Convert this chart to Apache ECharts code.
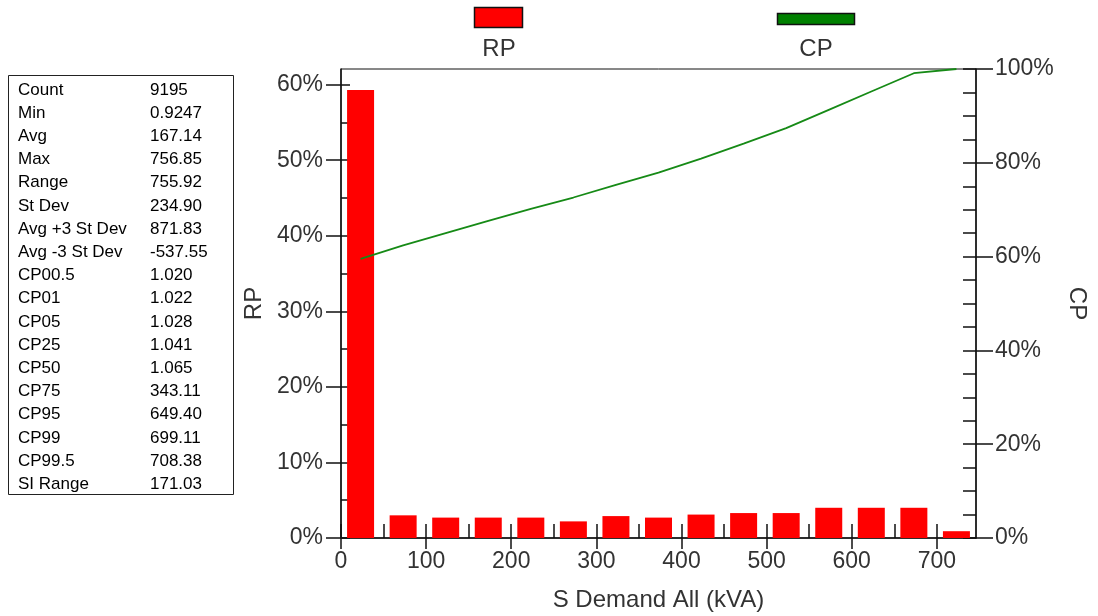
<!DOCTYPE html>
<html>
<head>
<meta charset="utf-8">
<script src="https://cdn.jsdelivr.net/npm/echarts@6/dist/echarts.min.js"></script>
<style>
html,body{margin:0;padding:0;background:#fff;}
#chart{width:1098px;height:616px;}
</style>
</head>
<body>
<div id="chart"></div>
<script>
// ---- data ----
const binCenters = [23, 73, 123, 173, 223, 273, 323, 373, 423, 473, 523, 573, 623, 673, 723];
const rpValues = [59.3, 3.0, 2.7, 2.7, 2.7, 2.2, 2.9, 2.7, 3.1, 3.3, 3.3, 4.0, 4.0, 4.0, 0.9];
const cpValues = [59.5, 62.4, 65.0, 67.6, 70.2, 72.6, 75.3, 77.9, 80.9, 84.1, 87.4, 91.3, 95.2, 99.1, 100.0];
const xTicks = [0, 100, 200, 300, 400, 500, 600, 700];
const xMinorTicks = [0, 50, 100, 150, 200, 250, 300, 350, 400, 450, 500, 550, 600, 650, 700];
const rpTicks = [0, 10, 20, 30, 40, 50, 60];
const rpMinorTicks = [0, 5, 10, 15, 20, 25, 30, 35, 40, 45, 50, 55, 60];
const cpTicks = [0, 20, 40, 60, 80, 100];
const cpMinorTicks = [0, 5, 10, 15, 20, 25, 30, 35, 40, 45, 50, 55, 60, 65, 70, 75, 80, 85, 90, 95, 100];
const statLabels = ['Count', 'Min', 'Avg', 'Max', 'Range', 'St Dev', 'Avg +3 St Dev', 'Avg -3 St Dev',
  'CP00.5', 'CP01', 'CP05', 'CP25', 'CP50', 'CP75', 'CP95', 'CP99', 'CP99.5', 'SI Range'];
const statValues = ['9195', '0.9247', '167.14', '756.85', '755.92', '234.90', '871.83', '-537.55',
  '1.020', '1.022', '1.028', '1.041', '1.065', '343.11', '649.40', '699.11', '708.38', '171.03'];
const xName = 'S Demand All (kVA)';

// ---- chart ----
const chart = echarts.init(document.getElementById('chart'));
const FONT = '"Liberation Sans", Arial, sans-serif';
const X_MIN = 0, X_MAX = 746, RP_MAX = 62.07, CP_MAX = 100;
const axisColor = '#111';
const labelColor = '#333';

const graphic = [];
// stats box
graphic.push({type: 'rect', shape: {x: 8.5, y: 75.5, width: 225, height: 419},
  style: {fill: '#fff', stroke: '#222', lineWidth: 1}, z: 10});
statLabels.forEach((lab, i) => {
  const y = 90 + i * 23.2;
  graphic.push({type: 'text', x: 18, y: y, z: 11,
    style: {text: lab, font: '17px ' + FONT, fill: '#000', verticalAlign: 'middle', align: 'left'}});
  graphic.push({type: 'text', x: 150, y: y, z: 11,
    style: {text: statValues[i], font: '17px ' + FONT, fill: '#000', verticalAlign: 'middle', align: 'left'}});
});
// legend
graphic.push({type: 'rect', shape: {x: 474.5, y: 7.5, width: 48, height: 20},
  style: {fill: '#ff0000', stroke: '#111', lineWidth: 1.5}, z: 10});
graphic.push({type: 'text', x: 499, y: 49, z: 10,
  style: {text: 'RP', font: '24px ' + FONT, fill: '#333', align: 'center', verticalAlign: 'middle'}});
graphic.push({type: 'rect', shape: {x: 777.5, y: 13.5, width: 77, height: 11},
  style: {fill: '#008000', stroke: '#111', lineWidth: 1.5}, z: 10});
graphic.push({type: 'text', x: 816, y: 49, z: 10,
  style: {text: 'CP', font: '24px ' + FONT, fill: '#333', align: 'center', verticalAlign: 'middle'}});

const tickLine = {color: axisColor, width: 1.5};
const mainLine = {show: true, onZero: false, lineStyle: {color: axisColor, width: 1.5}};
const hiddenLine = {show: false, onZero: false};
const option = {
  animation: false,
  backgroundColor: '#fff',
  textStyle: {fontFamily: FONT},
  grid: {left: 341, right: 122, top: 69, bottom: 78, show: true, borderColor: axisColor, borderWidth: 1,
    backgroundColor: 'transparent', outerBoundsMode: 'none', containLabel: false},
  xAxis: [
    {type: 'value', min: X_MIN, max: X_MAX, position: 'bottom',
      name: xName, nameLocation: 'middle', nameGap: 50,
      nameTextStyle: {fontSize: 24, color: labelColor, fontFamily: FONT},
      axisLine: mainLine,
      axisTick: {show: true, inside: false, length: 11, customValues: xTicks, lineStyle: tickLine},
      axisLabel: {customValues: xTicks, fontSize: 23, color: labelColor, margin: 12, fontFamily: FONT},
      splitLine: {show: false}},
    {type: 'value', min: X_MIN, max: X_MAX, position: 'bottom',
      axisLine: hiddenLine,
      axisTick: {show: true, inside: true, length: 14, customValues: xMinorTicks, lineStyle: tickLine},
      axisLabel: {show: false}, splitLine: {show: false}}
  ],
  yAxis: [
    {type: 'value', min: 0, max: RP_MAX, position: 'left',
      name: 'RP', nameLocation: 'middle', nameGap: 67, nameRotate: 90,
      nameTextStyle: {fontSize: 24, color: labelColor, fontFamily: FONT},
      axisLine: mainLine,
      axisTick: {show: true, inside: false, length: 15, customValues: rpTicks, lineStyle: tickLine},
      axisLabel: {customValues: rpTicks, formatter: '{value}%', fontSize: 23, color: labelColor, margin: 18, fontFamily: FONT},
      splitLine: {show: false}},
    {type: 'value', min: 0, max: CP_MAX, position: 'right',
      name: 'CP', nameLocation: 'middle', nameGap: 87, nameRotate: -90,
      nameTextStyle: {fontSize: 24, color: labelColor, fontFamily: FONT},
      axisLine: mainLine,
      axisTick: {show: true, inside: false, length: 17, customValues: cpTicks, lineStyle: tickLine},
      axisLabel: {customValues: cpTicks, formatter: '{value}%', fontSize: 23, color: labelColor, margin: 19, fontFamily: FONT},
      splitLine: {show: false}},
    {type: 'value', min: 0, max: RP_MAX, position: 'left',
      axisLine: hiddenLine,
      axisTick: {show: true, inside: true, length: 9, customValues: rpMinorTicks, lineStyle: tickLine},
      axisLabel: {show: false}, splitLine: {show: false}},
    {type: 'value', min: 0, max: CP_MAX, position: 'right',
      axisLine: hiddenLine,
      axisTick: {show: true, inside: true, length: 13, customValues: cpMinorTicks, lineStyle: tickLine},
      axisLabel: {show: false}, splitLine: {show: false}}
  ],
  series: [
    {name: 'RP', type: 'bar', xAxisIndex: 0, yAxisIndex: 0, barWidth: 27,
      itemStyle: {color: '#ff0000'},
      data: binCenters.map((x, i) => [x, rpValues[i]])},
    {name: 'CP', type: 'line', xAxisIndex: 0, yAxisIndex: 1, symbol: 'none',
      lineStyle: {color: '#168a16', width: 1.8},
      data: binCenters.map((x, i) => [x, cpValues[i]])}
  ],
  graphic: graphic
};
chart.setOption(option);
</script>
</body>
</html>
